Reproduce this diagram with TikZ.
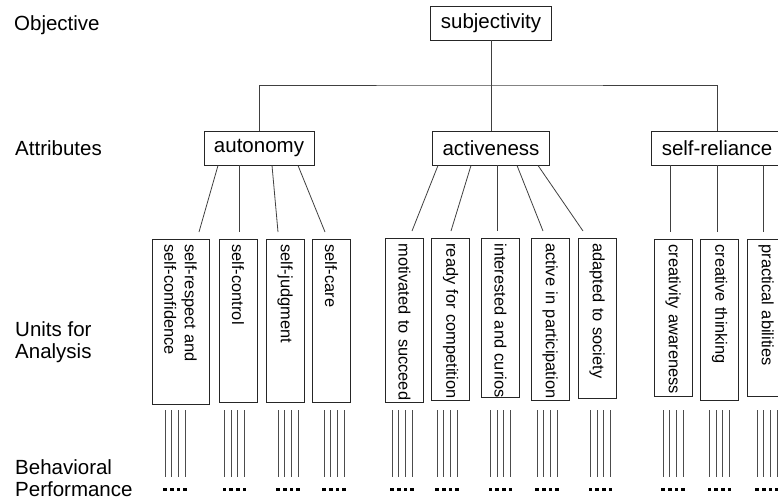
\documentclass[tikz,border=0pt]{standalone}
\usepackage{fontspec}
\setmainfont{Liberation Sans}

\begin{document}
\begin{tikzpicture}[x=1pt,y=-1pt,
    box/.style={draw=black!85,line width=0.9pt,rectangle,inner xsep=10pt,minimum height=34pt,font=\fontsize{20.5}{24}\selectfont},
    unit/.style={draw=black!85,line width=0.9pt,rectangle,rotate=-90,anchor=west,align=left,inner xsep=5pt,inner ysep=0pt,minimum height=38pt,font=\fontsize{16.4}{20.5}\selectfont},
    lvl/.style={anchor=base west,inner sep=0pt,align=left,font=\fontsize{20.5}{21.5}\selectfont},
    link/.style={draw=black!75,line width=0.8pt},
    perf/.style={draw=black!70,line width=0.8pt}]
\useasboundingbox (0,0) rectangle (778,501);
\clip (0,0) rectangle (778,501);

% level names
\node[lvl] (lobj) at (14,30.5) {Objective};
\node[lvl] (latt) at (15,155) {Attributes};
\node[lvl] (luni) at (15,358) {Units for\\Analysis};
\node[lvl] (lbeh) at (15,496) {Behavioral\\Performance};

% objective and attributes
\node[box] (subj) at (491,23) {subjectivity};
\node[box] (aut) at (259,148) {autonomy};
\node[box] (act) at (491,148) {activeness};
\node[box] (srel) at (717,148) {self-reliance};

\coordinate (bar) at (491,85);
\draw[link] (subj) -- (act);
\draw[link] (aut) |- (bar) -| (srel);

% units for analysis
\node[unit,minimum height=57pt,text width=155pt] (u1) at (180.5,239) {self-respect and\\self-confidence};
\foreach \nm/\x/\y/\tw/\txt in {u2/238/239/153/self-control, u3/285/239/153/self-judgment,
    u4/331/239/153/self-care, u5/404.5/238/154/motivated to succeed,
    u6/450.5/238/152/ready for competition, u7/500.5/238/149/interested and curios,
    u8/550/238/152/active in participation, u9/597/238/150/adapted to society,
    u10/673/239/147/creativity awareness, u11/719.5/239/151/creative thinking,
    u12/766/239/147/practical abilities}
    \node[unit,text width=\tw pt] (\nm) at (\x,\y) {\mbox{\txt}};

\foreach \a/\sx/\u/\ex in {aut/-41/u1/18.5, aut/-20/u2/1, aut/13/u3/-7, aut/39/u4/-6,
    act/-53/u5/7.5, act/-20/u6/0.5, act/6/u7/-3.5, act/26/u8/-7, act/47/u9/-14,
    srel/-47/u10/-3, srel/0/u11/-2.5, srel/46/u12/-3}
    \draw[link] ([xshift=\sx pt]\a.south) -- ([xshift=\ex pt,yshift=7pt]\u.west);

% behavioral performance
\coordinate (ptop) at (0,410);
\coordinate (pbot) at (0,477);
\coordinate (pdot) at (0,489.5);
\foreach \u/\dx in {u1/-5.5, u2/-3.5, u3/3, u4/3, u5/-2.5, u6/-3.5, u7/0, u8/-3,
    u9/3.5, u10/0, u11/0, u12/1} {
  \foreach \o in {-10,-3.3,3.3,10} {
    \pgfmathsetmacro\px{\dx+\o}
    \draw[perf] ([xshift=\px pt]\u.center |- ptop) -- ([xshift=\px pt]\u.center |- pbot);
    \fill[black] ([xshift=\px pt]\u.center |- pdot) +(-1.8,-1.8) rectangle +(1.8,1.8);
  }
}
\end{tikzpicture}
\end{document}
